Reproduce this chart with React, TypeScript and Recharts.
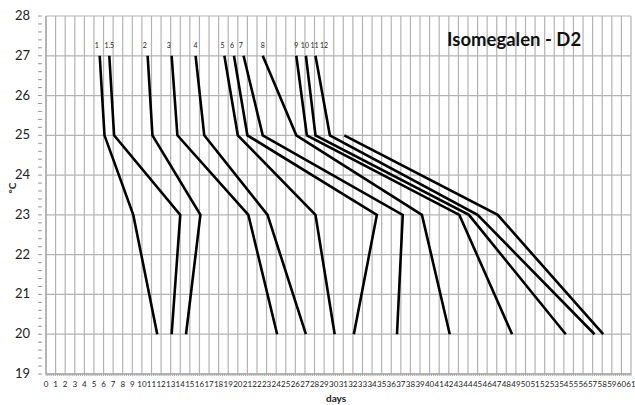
import { LineChart, Line, XAxis, YAxis, CartesianGrid, Scatter } from "recharts";

// temperature steps shared by the curves (°C)
const TEMPS = [27, 25, 23, 20];
const TEMPS_SHORT = [25, 23, 20];

// days at 27, 25, 23, 20 °C
const D1 = [5.6, 6.1, 9.1, 11.6];
const D1_5 = [6.6, 7.1, 14.0, 13.1];
const D2 = [10.6, 11.1, 16.1, 14.6];
const D3 = [13.1, 13.7, 21.1, 24.1];
const D4 = [15.6, 16.5, 23.1, 27.1];
const D5 = [18.6, 20.0, 28.1, 30.1];
const D6 = [19.6, 21.0, 34.5, 32.1];
const D7 = [20.6, 22.6, 37.2, 36.6];
const D8 = [22.6, 26.1, 39.2, 42.1];
const D9 = [26.1, 27.2, 43.1, 48.6];
const D10 = [27.1, 28.1, 44.1, 54.2];
const D11 = [28.1, 29.6, 45.0, 57.2];
// this one starts at 25 °C
const D12 = [31.1, 47.1, 58.1];

const LABELS = ["1", "1.5", "2", "3", "4", "5", "6", "7", "8", "9", "10", "11", "12"];
const LABEL_X = [5.3, 6.6, 10.3, 12.8, 15.6, 18.4, 19.4, 20.3, 22.6, 26.1, 27.0, 28.0, 29.0];

const X_TICKS = Array.from({ length: 62 }, (_, i) => i);
const X_MINOR = Array.from({ length: 306 }, (_, i) => i * 0.2);
const Y_TICKS = [19, 20, 21, 22, 23, 24, 25, 26, 27, 28];
const Y_MINOR = Array.from({ length: 46 }, (_, i) => 19 + i * 0.2);

const FONT = "Lato, 'Open Sans', sans-serif";

const toPoints = (days: number[], temps: number[]) =>
  days.map((d, i) => ({ x: d, y: temps[i] }));

const SERIES = [
  toPoints(D1, TEMPS),
  toPoints(D1_5, TEMPS),
  toPoints(D2, TEMPS),
  toPoints(D3, TEMPS),
  toPoints(D4, TEMPS),
  toPoints(D5, TEMPS),
  toPoints(D6, TEMPS),
  toPoints(D7, TEMPS),
  toPoints(D8, TEMPS),
  toPoints(D9, TEMPS),
  toPoints(D10, TEMPS),
  toPoints(D11, TEMPS),
  toPoints(D12, TEMPS_SHORT),
];

const labelData = LABELS.map((name, i) => ({ x: LABEL_X[i], y: 27.2, name }));

// eslint-disable-next-line @typescript-eslint/no-explicit-any
function YTick({ x, y, payload }: any) {
  const v = Math.round(payload.value * 10) / 10;
  const major = Number.isInteger(v);
  return (
    <g>
      <line x1={x} x2={x + 4} y1={y} y2={y} stroke="#999" />
      {major && (
        <text x={x - 8} y={y} dy={4} textAnchor="end" fontSize={13} fill="#222" fontFamily={FONT}>
          {v}
        </text>
      )}
    </g>
  );
}

// minor ticks along the day axis, numbers only on whole days
// eslint-disable-next-line @typescript-eslint/no-explicit-any
function XTick({ x, y, payload }: any) {
  const v = Math.round(payload.value * 10) / 10;
  const major = Number.isInteger(v);
  return (
    <g>
      <line x1={x} x2={x} y1={y - 2} y2={y - 5} stroke="#aaa" />
      {major && (
        <text x={x} y={y} dy={9} textAnchor="middle" fontSize={8} fill="#222" fontFamily={FONT}>
          {v}
        </text>
      )}
    </g>
  );
}

// eslint-disable-next-line @typescript-eslint/no-explicit-any
function SeriesLabel({ cx, cy, payload }: any) {
  return (
    <text x={cx} y={cy} textAnchor="middle" fontSize={7} fill="#222" fontFamily={FONT}>
      {payload.name}
    </text>
  );
}

export default function App() {
  return (
    <div style={{ position: "absolute", left: 0, top: 0, width: 635, height: 405, background: "#fff" }}>
      <LineChart width={635} height={405} margin={{ top: 16, right: 4, bottom: 7, left: 0 }}>
        <CartesianGrid
          verticalValues={X_TICKS}
          horizontalValues={Y_TICKS}
          stroke="#b3b3b3"
          strokeWidth={1.2}
        />
        <XAxis
          type="number"
          dataKey="x"
          domain={[0, 61]}
          ticks={X_MINOR}
          interval={0}
          height={24}
          tickLine={false}
          tickSize={0}
          axisLine={{ stroke: "#999" }}
          tick={<XTick />}
          tickMargin={4}
          allowDataOverflow
        />
        <YAxis
          type="number"
          dataKey="y"
          domain={[19, 28]}
          ticks={Y_MINOR}
          interval={0}
          width={46}
          tickLine={false}
          axisLine={{ stroke: "#999" }}
          tick={<YTick />}
        />
        {SERIES.map((pts, i) => (
          <Line
            key={i}
            data={pts}
            dataKey="y"
            type="linear"
            stroke="#000"
            strokeWidth={2.6}
            dot={false}
            activeDot={false}
            isAnimationActive={false}
          />
        ))}
        <Scatter data={labelData} dataKey="y" shape={<SeriesLabel />} isAnimationActive={false} />
      </LineChart>
      <div
        style={{
          position: "absolute",
          left: 447,
          top: 28,
          fontFamily: FONT,
          fontWeight: 700,
          fontSize: 18.5,
          color: "#111",
          whiteSpace: "nowrap",
        }}
      >
        Isomegalen - D2
      </div>
      <div
        style={{
          position: "absolute",
          left: 326,
          top: 392,
          fontFamily: FONT,
          fontWeight: 700,
          fontSize: 10,
          color: "#222",
        }}
      >
        days
      </div>
      <div
        style={{
          position: "absolute",
          left: 7,
          top: 182,
          transform: "rotate(-90deg)",
          fontFamily: FONT,
          fontWeight: 700,
          fontSize: 10,
          color: "#222",
        }}
      >
        °C
      </div>
    </div>
  );
}
